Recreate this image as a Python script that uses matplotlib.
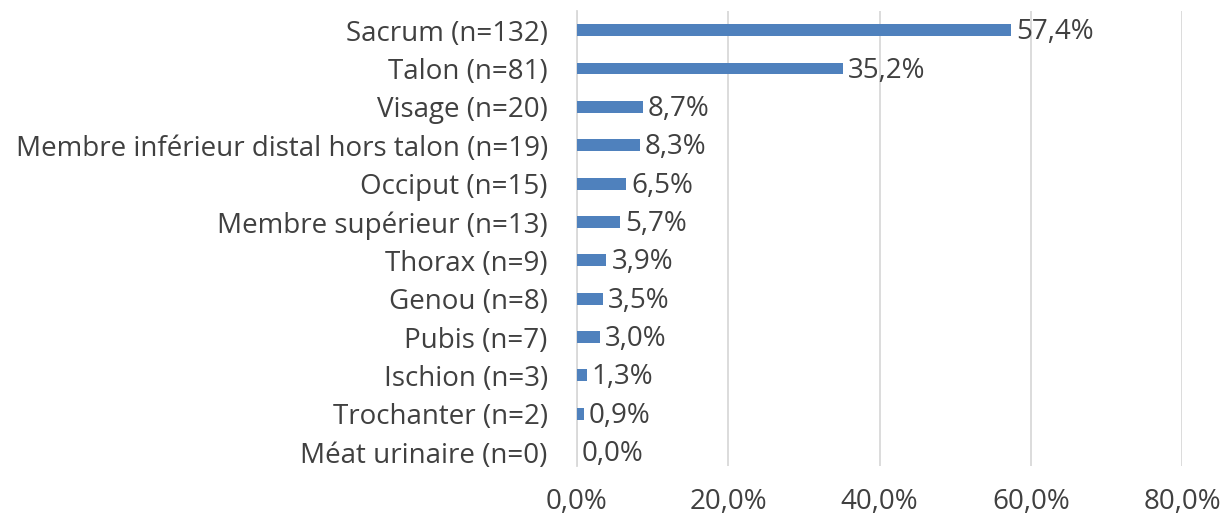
import matplotlib
matplotlib.use("Agg")
import matplotlib.pyplot as plt
from matplotlib.ticker import FuncFormatter

# localisation des escarres
sites = ["Sacrum (n=132)", "Talon (n=81)", "Visage (n=20)",
         "Membre inférieur distal hors talon (n=19)", "Occiput (n=15)",
         "Membre supérieur (n=13)", "Thorax (n=9)", "Genou (n=8)",
         "Pubis (n=7)", "Ischion (n=3)", "Trochanter (n=2)",
         "Méat urinaire (n=0)"]
pct = [57.4, 35.2, 8.7, 8.3, 6.5, 5.7, 3.9, 3.5, 3.0, 1.3, 0.9, 0.0]
xticks = [0, 20, 40, 60, 80]

txt = "#404040"
fs = 20
plt.rcParams['font.family'] = ['Open Sans', 'DejaVu Sans']

fig = plt.figure(figsize=(12.25, 5.2), dpi=100)
ax = fig.add_axes([0.471, 0.104, 0.494, 0.875])

pos = list(range(len(sites)))
ax.barh(pos, pct, height=0.31, color="#4F81BD", zorder=3)
for p, v in zip(pos, pct):
    ax.annotate(f"{v:.1f}%".replace(".", ","), (v, p), xytext=(3.5, -1.5),
                textcoords="offset points", va="center", ha="left",
                fontsize=fs, color=txt)

ax.set_xlim(0, 80)
ax.set_ylim(11.36, -0.5)
ax.set_xticks(xticks)
ax.xaxis.set_major_formatter(FuncFormatter(lambda x, _: f"{x:.1f}%".replace(".", ",")))
ax.set_yticks(pos)
ax.set_yticklabels(sites)
ax.tick_params(axis="both", length=0, labelsize=fs, labelcolor=txt)
ax.tick_params(axis="x", pad=16)
ax.tick_params(axis="y", pad=21)
ax.grid(axis="x", color="#D9D9D9", linewidth=1.3, zorder=0)
for s in ["top", "right", "bottom"]:
    ax.spines[s].set_visible(False)
ax.spines["left"].set_color("#D9D9D9")
ax.spines["left"].set_linewidth(1.3)

fig.savefig("out.png", dpi=100)
